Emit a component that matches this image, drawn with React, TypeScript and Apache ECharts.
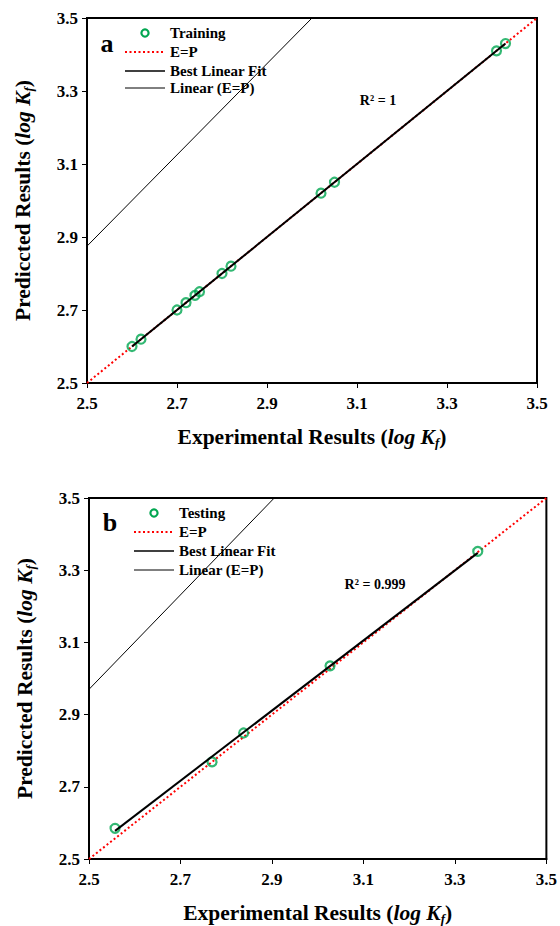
import React, { useEffect, useRef } from "react";
import * as echarts from "echarts";

const tickValues = [2.5, 2.7, 2.9, 3.1, 3.3, 3.5];

const trainX = [2.6, 2.62, 2.7, 2.72, 2.74, 2.75, 2.8, 2.82, 3.02, 3.05, 3.41, 3.43];
const trainY = [2.6, 2.62, 2.7, 2.72, 2.74, 2.75, 2.8, 2.82, 3.02, 3.05, 3.41, 3.43];
const trainFitX = [2.6, 3.43];
const trainFitY = [2.6, 3.43];
const trainLinX = [2.5, 3.0];
const trainLinY = [2.875, 3.5];

const testX = [2.557, 2.769, 2.838, 3.027, 3.35];
const testY = [2.585, 2.769, 2.849, 3.035, 3.352];
const testFitX = [2.557, 3.35];
const testFitY = [2.578, 3.348];
const testLinX = [2.5, 2.905];
const testLinY = [2.97, 3.5];

const epX = [2.5, 3.5];
const epY = [2.5, 3.5];

const FONT = "'Liberation Serif', 'Times New Roman', serif";
const GREEN = "#00A650";
const RED = "#FF0000";

const zip = (xs: number[], ys: number[]) => xs.map((x, i) => [x, ys[i]]);

const richName = {
  a: { fontFamily: FONT, fontWeight: "bold", fontSize: 21.5, color: "#000", lineHeight: 25 },
  b: { fontFamily: FONT, fontWeight: "bold", fontStyle: "italic", fontSize: 21.5, color: "#000", lineHeight: 25 },
  c: { fontFamily: FONT, fontWeight: "bold", fontStyle: "italic", fontSize: 13, color: "#000", lineHeight: 13, verticalAlign: "bottom" },
};

function xAxisCfg(gridIndex: number) {
  return {
    type: "value",
    gridIndex,
    min: 2.5,
    max: 3.5,
    name: "{a|Experimental Results (}{b|log K}{c|f}{a|)}",
    nameLocation: "middle",
    nameGap: 41,
    nameTextStyle: { rich: richName },
    axisLine: { show: true, lineStyle: { color: "#000", width: 2 } },
    axisTick: { show: true, length: 5, customValues: tickValues, lineStyle: { color: "#000", width: 1 } },
    axisLabel: {
      customValues: tickValues,
      margin: 12,
      fontFamily: FONT,
      fontWeight: "bold",
      fontSize: 17,
      color: "#000",
      formatter: (v: number) => v.toFixed(1),
    },
    splitLine: { show: false },
  };
}

function yAxisCfg(gridIndex: number) {
  return {
    type: "value",
    gridIndex,
    min: 2.5,
    max: 3.5,
    name: "{a|Prediccted Results (}{b|log K}{c|f}{a|)}",
    nameLocation: "middle",
    nameGap: 52,
    nameRotate: 90,
    nameTextStyle: { rich: richName },
    axisLine: { show: true, lineStyle: { color: "#000", width: 2 } },
    axisTick: { show: true, length: 5, customValues: tickValues, lineStyle: { color: "#000", width: 1 } },
    axisLabel: {
      customValues: tickValues,
      margin: 9,
      fontFamily: FONT,
      fontWeight: "bold",
      fontSize: 17,
      color: "#000",
      formatter: (v: number) => v.toFixed(1),
    },
    splitLine: { show: false },
  };
}

function seriesFor(idx: number, name: string, px: number[], py: number[], fx: number[], fy: number[], lx: number[], ly: number[]) {
  return [
    {
      name: "E=P",
      type: "line",
      xAxisIndex: idx,
      yAxisIndex: idx,
      data: zip(epX, epY),
      symbol: "none",
      lineStyle: { color: RED, width: 2, type: [2, 2.5] },
      z: 2,
    },
    {
      name: "Linear (E=P)",
      type: "line",
      xAxisIndex: idx,
      yAxisIndex: idx,
      data: zip(lx, ly),
      symbol: "none",
      clip: true,
      lineStyle: { color: "#000", width: 1 },
      z: 2,
    },
    {
      name,
      type: "scatter",
      xAxisIndex: idx,
      yAxisIndex: idx,
      data: zip(px, py),
      symbol: "circle",
      symbolSize: 9,
      itemStyle: { color: "rgba(0,0,0,0)", borderColor: GREEN, borderWidth: 2.2 },
      z: 3,
    },
    {
      name: "Best Linear Fit",
      type: "line",
      xAxisIndex: idx,
      yAxisIndex: idx,
      data: zip(fx, fy),
      symbol: "none",
      lineStyle: { color: "#000", width: 2 },
      z: 4,
    },
  ];
}

function legendGraphics(x0: number, y0: number, label: string, dy: number[]) {
  const ts = { fontFamily: FONT, fontWeight: "bold", fontSize: 15, fill: "#000", verticalAlign: "middle", align: "left" };
  const lineX1 = x0;
  const lineX2 = x0 + 40;
  const tx = x0 + 45;
  return [
    { type: "circle", shape: { cx: x0 + 20, cy: y0 + dy[0], r: 3.6 }, style: { fill: "none", stroke: GREEN, lineWidth: 2.2 } },
    { type: "text", x: tx, y: y0 + dy[0], style: { ...ts, text: label } },
    { type: "line", shape: { x1: lineX1, y1: y0 + dy[1], x2: lineX2, y2: y0 + dy[1] }, style: { stroke: RED, lineWidth: 2, lineDash: [2, 2.5] } },
    { type: "text", x: tx, y: y0 + dy[1], style: { ...ts, text: "E=P" } },
    { type: "line", shape: { x1: lineX1, y1: y0 + dy[2], x2: lineX2, y2: y0 + dy[2] }, style: { stroke: "#000", lineWidth: 1.5 } },
    { type: "text", x: tx, y: y0 + dy[2], style: { ...ts, text: "Best Linear Fit" } },
    { type: "line", shape: { x1: lineX1, y1: y0 + dy[3], x2: lineX2, y2: y0 + dy[3] }, style: { stroke: "#000", lineWidth: 1 } },
    { type: "text", x: tx, y: y0 + dy[3], style: { ...ts, text: "Linear (E=P)" } },
  ];
}

export default function App() {
  const ref = useRef<HTMLDivElement>(null);
  useEffect(() => {
    document.body.style.margin = "0";
    if (!ref.current) return;
    const chart = echarts.init(ref.current, undefined, { renderer: "svg" });
    const gridStyle = { show: true, borderColor: "#000", borderWidth: 2, containLabel: false };
    chart.setOption({
      animation: false,
      backgroundColor: "#fff",
      grid: [
        { ...gridStyle, left: 87, top: 18, width: 450, height: 365 },
        { ...gridStyle, left: 89, top: 498, width: 459, height: 363 },
      ],
      xAxis: [xAxisCfg(0), xAxisCfg(1)],
      yAxis: [yAxisCfg(0), yAxisCfg(1)],
      series: [
        ...seriesFor(0, "Training", trainX, trainY, trainFitX, trainFitY, trainLinX, trainLinY),
        ...seriesFor(1, "Testing", testX, testY, testFitX, testFitY, testLinX, testLinY),
      ],
      graphic: [
        ...legendGraphics(125, 0, "Training", [33, 52, 71, 88]),
        ...legendGraphics(134, 0, "Testing", [513, 532, 551, 570]),
        { type: "text", x: 107, y: 43, style: { text: "a", fontFamily: FONT, fontWeight: "bold", fontSize: 26, fill: "#000", align: "center", verticalAlign: "middle" } },
        { type: "text", x: 110, y: 522, style: { text: "b", fontFamily: FONT, fontWeight: "bold", fontSize: 26, fill: "#000", align: "center", verticalAlign: "middle" } },
        { type: "text", x: 378, y: 100, style: { text: "R² = 1", fontFamily: FONT, fontWeight: "bold", fontSize: 14, fill: "#000", align: "center", verticalAlign: "middle" } },
        { type: "text", x: 375, y: 584, style: { text: "R² = 0.999", fontFamily: FONT, fontWeight: "bold", fontSize: 14, fill: "#000", align: "center", verticalAlign: "middle" } },
      ],
    });
    return () => chart.dispose();
  }, []);
  return <div ref={ref} style={{ position: "absolute", left: 0, top: 0, width: 560, height: 926 }} />;
}
